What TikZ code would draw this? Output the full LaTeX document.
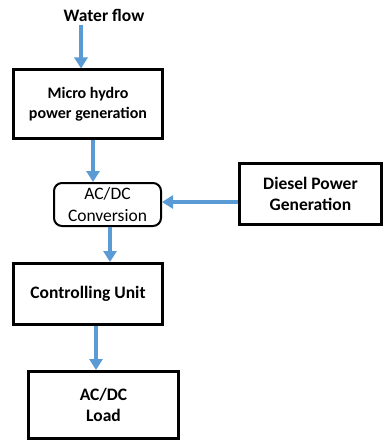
\documentclass[tikz,border=0pt]{standalone}
\usepackage{fontspec}
\setmainfont{Carlito}
\usetikzlibrary{arrows.meta}
\definecolor{arrblue}{HTML}{5B9BD5}
\begin{document}
\begin{tikzpicture}[x=1pt,y=-1pt,
  thickbox/.style={draw=black,line width=3pt,fill=white,align=center,font=\fontsize{17.5}{21.5}\selectfont\bfseries,inner sep=0pt},
  roundbox/.style={draw=black,line width=2pt,fill=white,rounded corners=8pt,align=center,font=\fontsize{17.5}{21.5}\selectfont,inner sep=0pt},
  arr/.style={draw=arrblue,line width=4pt,-{Triangle[width=13pt,length=11pt]}}]
\useasboundingbox (0,0) rectangle (383,441);
\node[font=\fontsize{17.5}{21}\selectfont\bfseries] (water) at (104,15) {Water flow};
\node[thickbox,minimum width=149pt,minimum height=68pt,font=\fontsize{16}{20}\selectfont\bfseries] (micro) at (88,104) {Micro hydro\\power generation};
\node[roundbox,minimum width=107pt,minimum height=43pt] (acdc) at (107.5,204.5) {AC/DC\\Conversion};
\node[thickbox,minimum width=142pt,minimum height=61pt] (diesel) at (310.5,194) {Diesel Power\\Generation};
\node[thickbox,minimum width=149pt,minimum height=61pt] (ctrl) at (88,294) {Controlling Unit};
\node[thickbox,minimum width=150pt,minimum height=67pt] (load) at (103.5,405) {AC/DC\\Load};
\coordinate (c1) at (81,0);
\coordinate (c2) at (93,0);
\coordinate (c3) at (0,202);
\coordinate (c4) at (110,0);
\coordinate (c5) at (96,0);
\draw[arr] (water.south -| c1) -- (micro.north -| c1);
\draw[arr] (micro.south -| c2) -- (acdc.north -| c2);
\draw[arr] (diesel.west |- c3) -- (acdc.east |- c3);
\draw[arr] (acdc.south -| c4) -- (ctrl.north -| c4);
\draw[arr] (ctrl.south -| c5) -- (load.north -| c5);
\end{tikzpicture}
\end{document}
